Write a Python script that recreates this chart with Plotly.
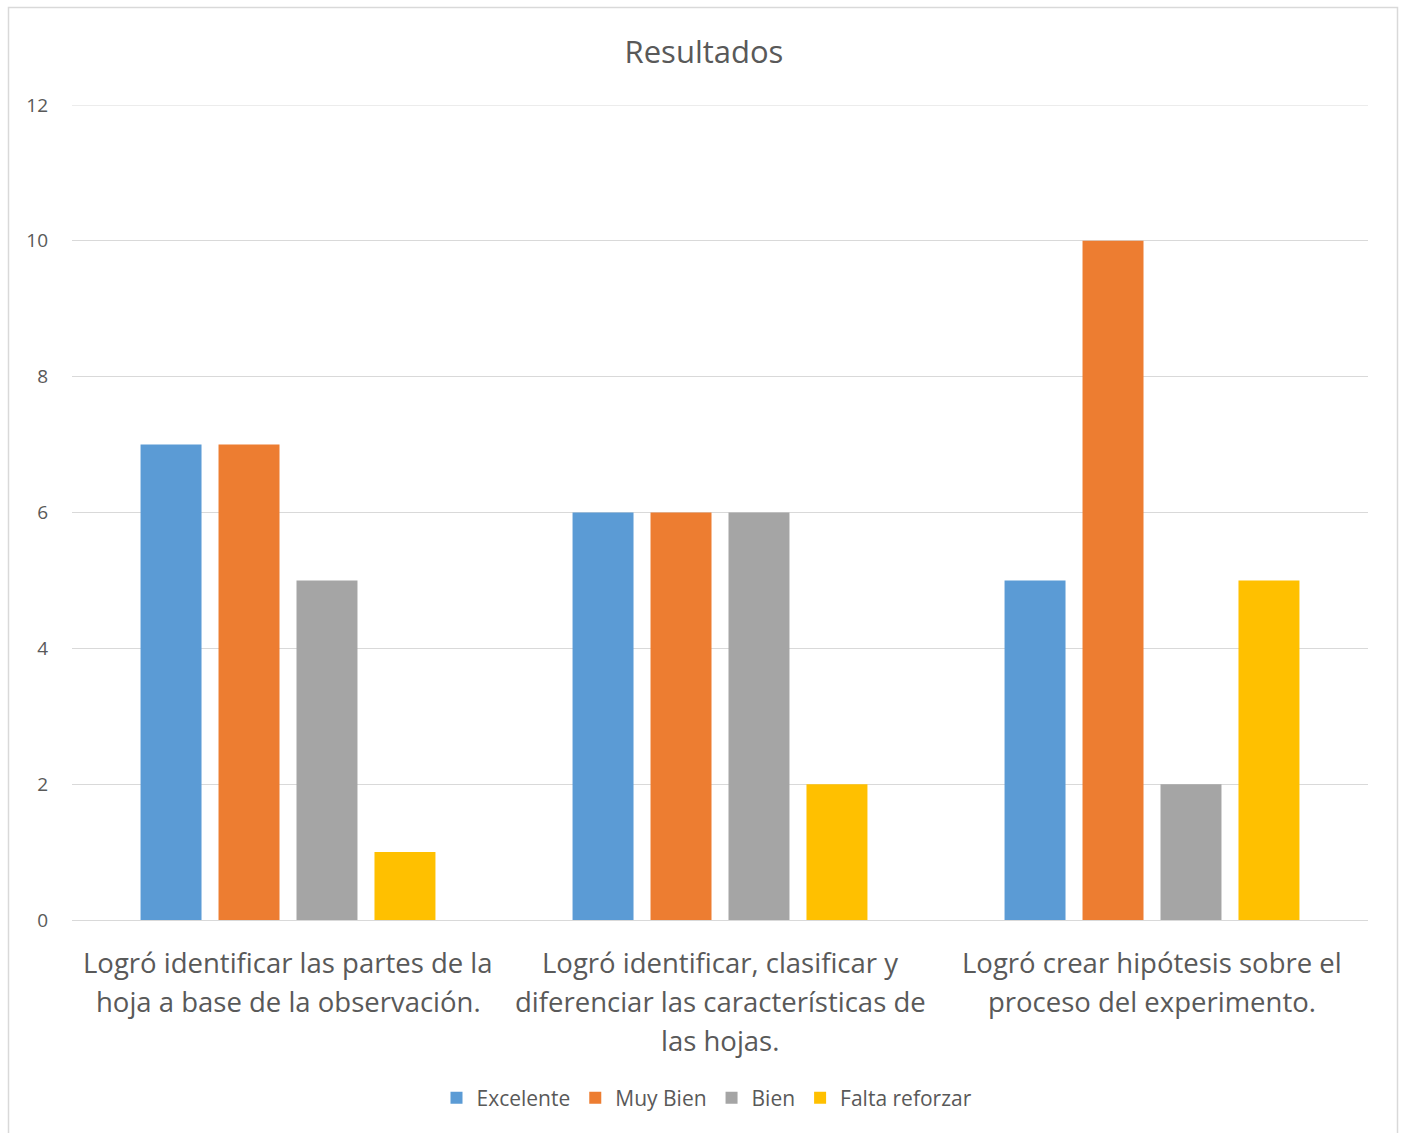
import plotly.graph_objects as go

categories = ["cat1", "cat2", "cat3"]
category_lines = [
    ["Logró identificar las partes de la", "hoja a base de la observación."],
    ["Logró identificar, clasificar y", "diferenciar las características de", "las hojas."],
    ["Logró crear hipótesis sobre el", "proceso del experimento."],
]
series_names = ["Excelente", "Muy Bien", "Bien", "Falta reforzar"]
excelente = [7, 6, 5]
muy_bien = [7, 6, 10]
bien = [5, 6, 2]
falta_reforzar = [1, 2, 5]
series_values = [excelente, muy_bien, bien, falta_reforzar]
colors = ["#5B9BD5", "#ED7D31", "#A5A5A5", "#FFC000"]
y_ticks = [0, 2, 4, 6, 8, 10, 12]
y_max = 12

FONT = "Open Sans"
TXT = "#595959"
GRID = "#D9D9D9"

W, H = 1405, 1133
ml, mr, mt, mb = 72, 37, 105, 213
pw, ph = W - ml - mr, H - mt - mb

fig = go.Figure()
for name, vals, c in zip(series_names, series_values, colors):
    fig.add_trace(go.Bar(x=categories, y=vals, name=name, marker=dict(color=c, line=dict(width=0))))

annotations = []
for cat, lines in zip(categories, category_lines):
    for i, line in enumerate(lines):
        annotations.append(dict(
            x=cat, xref="x", y=0, yref="paper", yanchor="middle", xanchor="center",
            yshift=-(42 + 39 * i), text=line, showarrow=False,
            font=dict(family=FONT, size=27.5, color=TXT)))

def px_to_paper_x(px):
    return (px - ml) / pw

def px_to_paper_y(py):
    return (H - mb - py) / ph

fig.update_layout(
    width=W, height=H,
    margin=dict(l=ml, r=mr, t=mt, b=mb),
    paper_bgcolor="white", plot_bgcolor="white",
    title=dict(text="Resultados", x=704 / W, xanchor="center", xref="container",
               y=1 - 52 / H, yanchor="middle", yref="container",
               font=dict(family=FONT, size=31, color=TXT)),
    barmode="group", bargap=0.278, bargroupgap=0.218,
    xaxis=dict(showticklabels=False, showgrid=False, zeroline=False, showline=False, ticks=""),
    yaxis=dict(range=[0, y_max], tickvals=y_ticks, showgrid=True, gridcolor=GRID, gridwidth=1,
               zeroline=True, zerolinecolor=GRID, zerolinewidth=1, showline=False,
               ticks="", ticklabelstandoff=23,
               tickfont=dict(family=FONT, size=19, color=TXT)),
    legend=dict(orientation="h", x=707 / W, xanchor="center", xref="container",
                y=1 - 1098 / H, yanchor="middle", yref="container",
                font=dict(family=FONT, size=21, color=TXT), itemwidth=30,
                traceorder="normal"),
    annotations=annotations,
    shapes=[
        dict(type="line", xref="paper", yref="y", x0=0, x1=1, y0=y_max, y1=y_max,
             line=dict(color=GRID, width=1), layer="below"),
        dict(type="rect", xref="paper", yref="paper",
             x0=px_to_paper_x(8.5), x1=px_to_paper_x(1397.5),
             y0=px_to_paper_y(1140), y1=px_to_paper_y(7.5),
             line=dict(color=GRID, width=1.5), fillcolor="rgba(0,0,0,0)", layer="below"),
    ],
)

fig.write_html("out.html", config={"displayModeBar": False},
               post_script="document.body.style.margin='0';document.body.style.padding='0';")
